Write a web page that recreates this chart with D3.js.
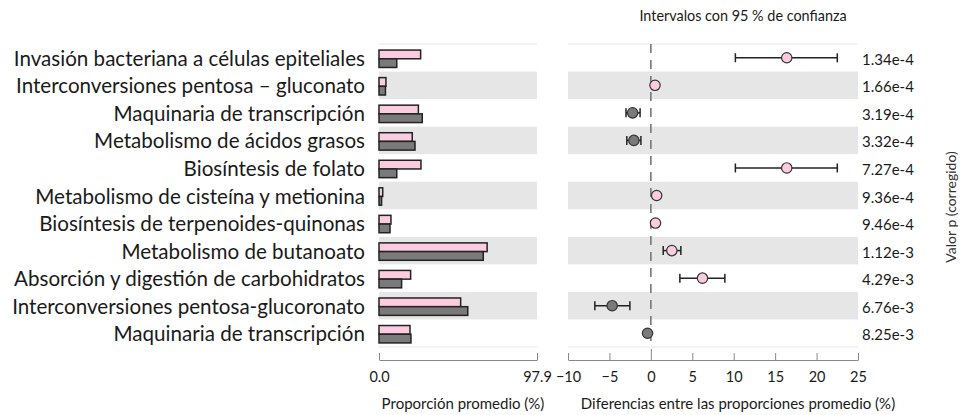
<!DOCTYPE html>
<html>
<head>
<meta charset="utf-8">
<script src="https://cdn.jsdelivr.net/npm/d3@7"></script>
<style>
  html, body { margin: 0; padding: 0; background: #fff; }
  svg { display: block; font-family: Lato, "Open Sans", sans-serif; }
</style>
</head>
<body>
<svg id="chart" width="967" height="415"></svg>
<script>
// Pathways compared between the two groups
const categories = [
  "Invasión bacteriana a células epiteliales",
  "Interconversiones pentosa – gluconato",
  "Maquinaria de transcripción",
  "Metabolismo de ácidos grasos",
  "Biosíntesis de folato",
  "Metabolismo de cisteína y metionina",
  "Biosíntesis de terpenoides-quinonas",
  "Metabolismo de butanoato",
  "Absorción y digestión de carbohidratos",
  "Interconversiones pentosa-glucoronato",
  "Maquinaria de transcripción"
];
// Mean proportion (%) per group
const groupPink = [25.8, 4.3, 24.4, 20.6, 26.0, 2.3, 7.4, 67.0, 19.6, 50.6, 19.2];
const groupGray = [11.0, 4.0, 26.8, 22.3, 11.0, 1.6, 6.8, 64.6, 14.0, 55.0, 19.8];
// Difference in mean proportions (%) and 95 % confidence bounds
const diffMean  = [16.4, 0.5, -2.2, -2.05, 16.4, 0.7, 0.56, 2.53, 6.23, -4.67, -0.4];
const diffLow   = [10.2, 0.5, -3.0, -2.9, 10.2, 0.7, 0.56, 1.49, 3.5, -6.76, -0.4];
const diffHigh  = [22.5, 0.5, -1.3, -1.2, 22.5, 0.7, 0.56, 3.62, 8.93, -2.53, -0.4];
// Corrected p-values
const pValues = ["1.34e-4", "1.66e-4", "3.19e-4", "3.32e-4", "7.27e-4", "9.36e-4",
                 "9.46e-4", "1.12e-3", "4.29e-3", "6.76e-3", "8.25e-3"];
// Axis ticks
const leftTicks = [0, 97.9];
const rightTicks = [-10, -5, 0, 5, 10, 15, 20, 25];

const PINK = "#fbcbe0", GRAY = "#7a7a7a", STROKE = "#222", BAND = "#e6e6e6";

const svg = d3.select("#chart");
const idx = d3.range(categories.length);

const y = d3.scaleBand().domain(idx).range([44, 347]).padding(0);
const xL = d3.scaleLinear().domain([0, 97.9]).range([379, 537]);
const xR = d3.scaleLinear().domain([-10, 25]).range([568, 858]);

// Alternating row bands in both panels
[[379, 537], [568, 858]].forEach(([a, b]) => {
  svg.append("g").selectAll("rect").data(idx.filter(i => i % 2 === 1)).join("rect")
    .attr("x", a).attr("width", b - a)
    .attr("y", i => y(i)).attr("height", y.bandwidth())
    .attr("fill", BAND);
  svg.append("line").attr("x1", a).attr("x2", b).attr("y1", 44).attr("y2", 44)
    .attr("stroke", "#e8e8e8").attr("stroke-width", 1);
  svg.append("line").attr("x1", a).attr("x2", b).attr("y1", 347).attr("y2", 347)
    .attr("stroke", "#e8e8e8").attr("stroke-width", 1);
});

// Row labels
const labels = svg.append("g").selectAll("text").data(idx).join("text")
  .attr("x", 365).attr("y", i => y(i) + y.bandwidth() / 2)
  .attr("text-anchor", "end").attr("dominant-baseline", "central")
  .attr("fill", "#1a1a1a").attr("font-size", 18)
  .text(i => categories[i]);
// Fit the widest label to the available width
const widest = d3.max(labels.nodes(), n => n.getComputedTextLength());
const fs = 18 * 353 / widest;
labels.attr("font-size", fs);

// Left panel bars
const bh = 8.7;
const gb = svg.append("g");
gb.selectAll("rect.p").data(idx).join("rect").attr("class", "p")
  .attr("x", xL(0)).attr("width", i => xL(groupPink[i]) - xL(0))
  .attr("y", i => y(i) + y.bandwidth() / 2 - bh + 1).attr("height", bh)
  .attr("fill", PINK).attr("stroke", STROKE).attr("stroke-width", 1.5);
gb.selectAll("rect.g").data(idx).join("rect").attr("class", "g")
  .attr("x", xL(0)).attr("width", i => xL(groupGray[i]) - xL(0))
  .attr("y", i => y(i) + y.bandwidth() / 2 + 1).attr("height", bh)
  .attr("fill", GRAY).attr("stroke", STROKE).attr("stroke-width", 1.5);

// Zero reference line
svg.append("line").attr("x1", xR(0)).attr("x2", xR(0)).attr("y1", 44).attr("y2", 347)
  .attr("stroke", "#777").attr("stroke-width", 1.6).attr("stroke-dasharray", "9,7");

// Confidence intervals
const gc = svg.append("g").attr("stroke", STROKE).attr("stroke-width", 1.5);
idx.filter(i => diffHigh[i] - diffLow[i] > 0.01).forEach(i => {
  const cy = y(i) + y.bandwidth() / 2;
  gc.append("line").attr("x1", xR(diffLow[i])).attr("x2", xR(diffHigh[i])).attr("y1", cy).attr("y2", cy);
  gc.append("line").attr("x1", xR(diffLow[i])).attr("x2", xR(diffLow[i])).attr("y1", cy - 4.5).attr("y2", cy + 4.5);
  gc.append("line").attr("x1", xR(diffHigh[i])).attr("x2", xR(diffHigh[i])).attr("y1", cy - 4.5).attr("y2", cy + 4.5);
});
svg.append("g").selectAll("circle").data(idx).join("circle")
  .attr("cx", i => xR(diffMean[i])).attr("cy", i => y(i) + y.bandwidth() / 2)
  .attr("r", 5.2)
  .attr("fill", i => diffMean[i] >= 0 ? PINK : GRAY)
  .attr("stroke", "#333").attr("stroke-width", 1.2);

// p-values
svg.append("g").selectAll("text").data(idx).join("text")
  .attr("x", 862).attr("y", i => y(i) + y.bandwidth() / 2 + 1)
  .attr("dominant-baseline", "central").attr("font-size", 15).attr("fill", "#1a1a1a")
  .text(i => pValues[i]);

svg.append("text").attr("transform", "translate(950,207) rotate(-90)")
  .attr("text-anchor", "middle").attr("dominant-baseline", "central")
  .attr("font-size", 14).attr("fill", "#333").text("Valor p (corregido)");

svg.append("text").attr("x", 743).attr("y", 15).attr("text-anchor", "middle")
  .attr("dominant-baseline", "central").attr("font-size", 14.4).attr("fill", "#1a1a1a")
  .text("Intervalos con 95 % de confianza");

// Axes
function styleAxis(g) {
  g.select(".domain").attr("stroke", "#888").attr("stroke-width", 1);
  g.selectAll(".tick line").attr("stroke", "#888").attr("stroke-width", 1);
  g.selectAll(".tick text").attr("font-size", 14.5).attr("fill", "#1a1a1a")
    .attr("font-family", "Lato, sans-serif").attr("dy", null).attr("y", 16)
    .attr("dominant-baseline", "central");
}
svg.append("g").attr("transform", "translate(0,360)")
  .call(d3.axisTop(xL).tickValues(leftTicks).tickFormat(d3.format(".1f")).tickSize(7).tickSizeOuter(0))
  .call(styleAxis);
const ra = svg.append("g").attr("transform", "translate(0,360)")
  .call(d3.axisTop(xR).tickValues(rightTicks).tickFormat(d3.format("")).tickSize(7).tickSizeOuter(0))
  .call(styleAxis);
ra.selectAll(".tick").filter(d => d === 0).select("line").attr("y2", -11);

svg.append("text").attr("x", 463).attr("y", 403).attr("text-anchor", "middle")
  .attr("dominant-baseline", "central").attr("font-size", 15).attr("fill", "#1a1a1a")
  .text("Proporción promedio (%)");
svg.append("text").attr("x", 738).attr("y", 403).attr("text-anchor", "middle")
  .attr("dominant-baseline", "central").attr("font-size", 15).attr("fill", "#1a1a1a")
  .text("Diferencias entre las proporciones promedio (%)");
</script>
</body>
</html>
